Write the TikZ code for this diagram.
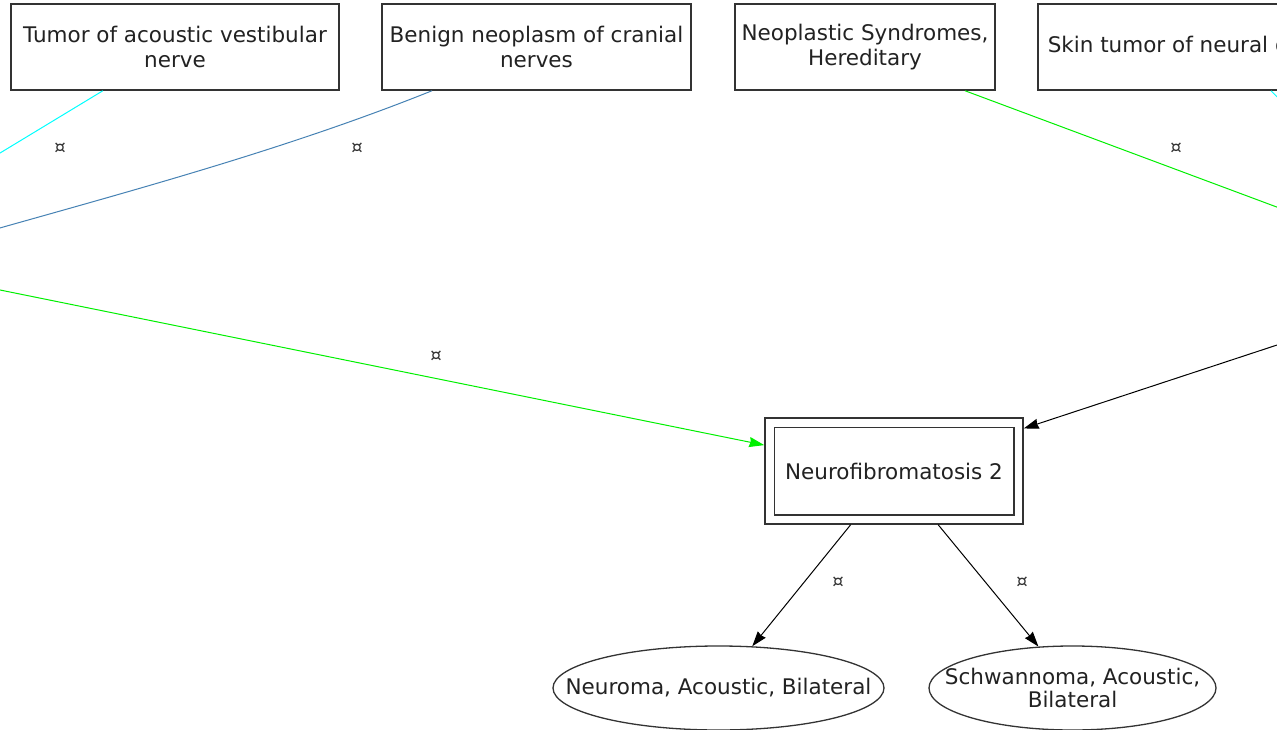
\documentclass[tikz,border=0pt]{standalone}
\usepackage{fontspec}
\setmainfont{DejaVu Sans}
\usetikzlibrary{arrows.meta,shapes.geometric}
\definecolor{boxline}{HTML}{333333}
\definecolor{txt}{HTML}{222222}
\definecolor{lcyan}{RGB}{0,255,255}
\definecolor{lgreen}{RGB}{0,240,0}
\definecolor{lsteel}{RGB}{70,130,180}

\begin{document}
\begin{tikzpicture}[x=1pt,y=-1pt,
  box/.style={draw=boxline, line width=1.5pt, rectangle, inner sep=0pt, align=center,
    text=txt, font=\fontsize{21.5}{25}\selectfont, minimum height=86pt},
  oval/.style={draw=boxline, line width=1.3pt, ellipse, inner xsep=-80pt, inner ysep=0pt,
    align=center, text=txt, font=\fontsize{21.5}{23}\selectfont, minimum height=84pt},
  lbl/.style={text=boxline, font=\fontsize{18}{18}\selectfont, inner sep=0pt},
  link/.style={line width=1pt},
  tip/.style={-{Stealth[length=15pt,width=10pt,inset=1pt]}},
]
\useasboundingbox (0,0) rectangle (1277,730);
\fill[white] (0,0) rectangle (1277,730);
\clip (0,0) rectangle (1277,730);

% top row of concepts
\node[box, minimum width=328pt] (b1) at (175,47) {Tumor of acoustic vestibular\\nerve};
\node[box, minimum width=309pt] (b2) at (536.5,47) {Benign neoplasm of cranial\\nerves};
\node[box, minimum width=260pt] (b3) at (865,47) {Neoplastic Syndromes,\\Hereditary};
\node[box, minimum width=308pt] (b4) at (1192,47) {Skin tumor of neural origin};

% focus concept
\node[box, minimum width=258pt, minimum height=106pt] (nf2) at (894,471) {Neurofibromatosis 2};
\draw[boxline, line width=1.5pt] ([shift={(10pt,-10pt)}]nf2.north west) rectangle ([shift={(-10pt,10pt)}]nf2.south east);

% children
\node[oval, minimum width=331pt] (e1) at (718.5,688) {Neuroma, Acoustic, Bilateral};
\node[oval, minimum width=287pt] (e2) at (1072.5,688) {Schwannoma, Acoustic,\\Bilateral};

% far ends of links leaving the view
\coordinate (c1) at (-100,213.6);
\coordinate (c2) at (-60,245);
\coordinate (c3) at (-100,269.7);
\coordinate (c4) at (1400,253);
\coordinate (c5) at (1340,160);
\coordinate (c6) at (1400,304.5);

% links
\draw[link, lcyan] (b1) -- (c1);
\draw[link, lsteel] ([xshift=-104.5pt]b2.south) .. controls (272,155) and (100,199) .. (c2);
\draw[link, lgreen, tip] (c3) -- (nf2);
\draw[link, lgreen] ([xshift=100pt]b3.south) -- (c4);
\draw[link, lcyan] ([xshift=79pt]b4.south) -- (c5);
\draw[link, black, tip] (c6) -- (nf2);
\draw[link, black, tip] (nf2) -- (e1);
\draw[link, black, tip] (nf2) -- (e2);

% link markers
\node[lbl] (l1) at (60,148) {¤};
\node[lbl] (l2) at (357,148) {¤};
\node[lbl] (l3) at (436,356) {¤};
\node[lbl] (l4) at (1176,148) {¤};
\node[lbl] (l5) at (838,582) {¤};
\node[lbl] (l6) at (1022,582) {¤};
\end{tikzpicture}
\end{document}
